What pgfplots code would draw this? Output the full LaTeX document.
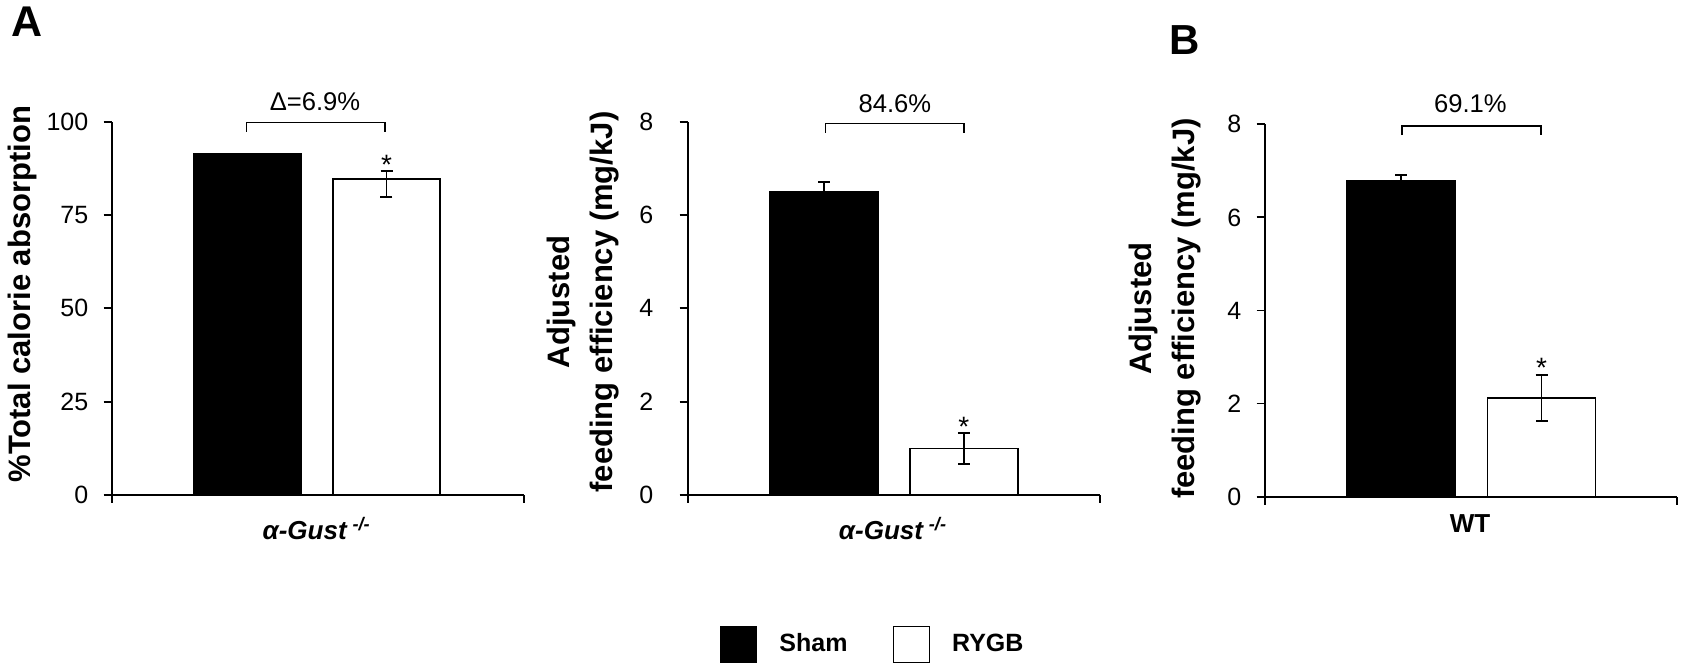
\documentclass[border=0pt]{standalone}
\usepackage{fontspec}
\setmainfont{Liberation Sans}
\usepackage{pgfplots}
\pgfplotsset{compat=1.18}

% shared look of the three bar panels
\pgfplotsset{
  panel/.style={
    scale only axis,
    axis lines*=left,
    xmin=0, xmax=1, ymin=0,
    xtick={0,1}, xticklabels={},
    tick align=outside,
    major tick length=4pt,
    axis line style={line width=0.9pt},
    every tick/.style={line width=0.9pt, black},
    ticklabel style={font=\fontsize{12.5}{14}\selectfont},
    yticklabel style={xshift=-4.2pt},
    /pgf/number format/assume math mode=true,
    ybar, bar shift=0pt,
    clip=false,
    every axis y label/.style={rotate=90, anchor=center, align=center,
      font=\bfseries\fontsize{15.5}{21.5}\selectfont},
    every axis x label/.style={anchor=base, font=\bfseries\fontsize{13}{14}\selectfont},
  },
  sq legend/.style={legend image code/.code={\draw[##1,line width=0.8pt] (0pt,-9pt) rectangle (18pt,9pt);}},
  sham/.style={fill=black, draw=black, line width=0.8pt, sq legend},
  rygb/.style={fill=white, draw=black, line width=0.8pt, sq legend},
  errs/.style={error bars/.cd, y dir=both, y explicit,
    error mark options={rotate=90, mark size=3pt, line width=0.8pt},
    error bar style={line width=0.8pt}},
}
\newcommand{\gust}{\textit{α-Gust}\hspace{2.5pt}\textsuperscript{\textit{-/-}}}
\newcommand{\txt}{\fontsize{12.8}{14}\selectfont}
\newcommand{\st}{\fontsize{14}{14}\selectfont}

\begin{document}
\begin{tikzpicture}
\path[use as bounding box] (0,0) rectangle (841pt,331.5pt);

\node[font=\bfseries\fontsize{21.5}{22}\selectfont] at (13.6pt,320.85pt) {A};
\node[font=\bfseries\fontsize{21}{22}\selectfont] at (592.1pt,311.5pt) {B};

% A, left: calorie absorption
\begin{axis}[panel, at={(55.85pt,84pt)}, anchor=south west,
  width=206.15pt, height=186.65pt,
  ymax=100, ytick={0,25,50,75,100},
  bar width=53.7pt,
  ylabel={\%Total calorie absorption},
  ylabel style={at={(axis description cs:-0.2163,0.538)}},
  xlabel={\gust},
  xlabel style={at={(axis description cs:0.4972,-0.119)}},
]
\addplot[sham] coordinates {(0.3286,91.5)};
\addplot[rygb, errs] coordinates {(0.6665,84.65) += (0,2.2) -= (0,4.75)};
\draw[line width=0.75pt] (axis cs:0.3274,97.3) -- (axis cs:0.3274,99.8) -- (axis cs:0.6629,99.8) -- (axis cs:0.6629,97.3);
\node[font=\txt, anchor=base] at (axis cs:0.4931,103.1) {Δ=6.9\%};
\node[font=\st, anchor=base] at (axis cs:0.6665,85.9) {*};
\end{axis}

% A, right: feeding efficiency, alpha-Gust
\begin{axis}[panel, at={(343.85pt,84pt)}, anchor=south west,
  width=206.15pt, height=186.65pt,
  ymax=8, ytick={0,2,4,6,8},
  yticklabel style={xshift=-5.5pt},
  bar width=54pt,
  ylabel={Adjusted\\feeding efficiency (mg/kJ)},
  ylabel style={at={(axis description cs:-0.253,0.517)}},
  xlabel={\gust},
  xlabel style={at={(axis description cs:0.498,-0.119)}},
  legend columns=2,
  legend style={at={(axis description cs:0.451,-0.4)}, anchor=center, draw=none,
    font=\bfseries\fontsize{12.5}{14}\selectfont,
    /tikz/every odd column/.append style={column sep=9pt},
    /tikz/every even column/.append style={column sep=20.5pt}},
]
\addplot[sham, errs] coordinates {(0.331,6.49) +- (0,0.22)};
\addlegendentry{Sham}
\addplot[rygb, errs] coordinates {(0.670,1.0) +- (0,0.33)};
\addlegendentry{RYGB}
\draw[line width=0.75pt] (axis cs:0.3347,7.76) -- (axis cs:0.3347,7.96) -- (axis cs:0.670,7.96) -- (axis cs:0.670,7.76);
\node[font=\txt, anchor=base] at (axis cs:0.5024,8.2) {84.6\%};
\node[font=\st, anchor=base] at (axis cs:0.670,1.25) {*};
\end{axis}

% B: feeding efficiency, WT
\begin{axis}[panel, at={(632.35pt,83.15pt)}, anchor=south west,
  width=206.15pt, height=186.2pt,
  ymax=8, ytick={0,2,4,6,8},
  bar width=54pt,
  ylabel={Adjusted\\feeding efficiency (mg/kJ)},
  ylabel style={at={(axis description cs:-0.242,0.505)}},
  xlabel={WT},
  xlabel style={at={(axis description cs:0.498,-0.0956)}},
]
\addplot[sham, errs] coordinates {(0.331,6.78) +- (0,0.13)};
\addplot[rygb, errs] coordinates {(0.6714,2.12) +- (0,0.49)};
\draw[line width=0.75pt] (axis cs:0.333,7.77) -- (axis cs:0.333,7.965) -- (axis cs:0.670,7.965) -- (axis cs:0.670,7.77);
\node[font=\txt, anchor=base] at (axis cs:0.4987,8.25) {69.1\%};
\node[font=\st, anchor=base] at (axis cs:0.6714,2.56) {*};
\end{axis}
\end{tikzpicture}
\end{document}
